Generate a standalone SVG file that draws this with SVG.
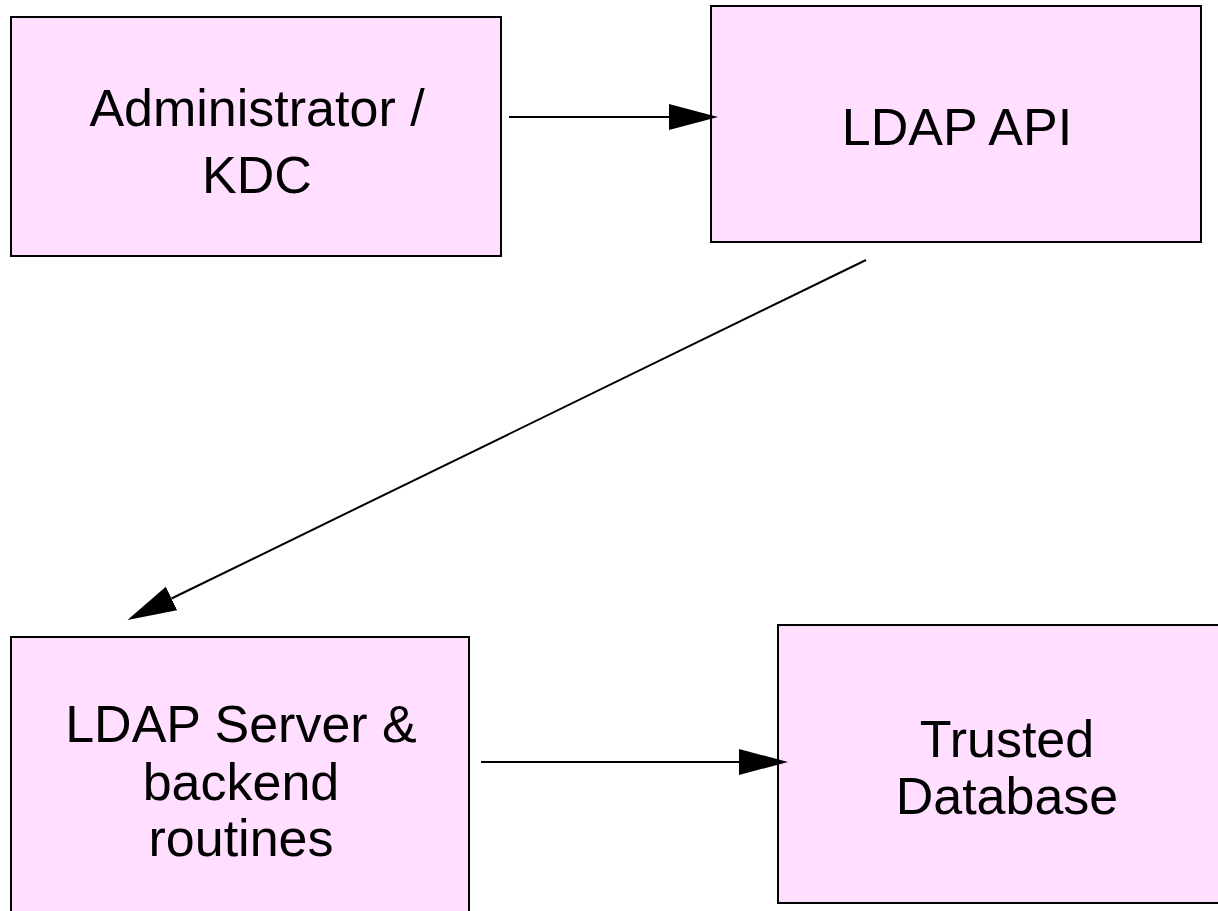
<svg xmlns="http://www.w3.org/2000/svg" width="1218" height="911" viewBox="0 0 1218 911">
<style>
.box{fill:#ffdeff;stroke:#000;stroke-width:2}
.lbl{font-family:"Liberation Sans",Arial,sans-serif;font-size:52px;fill:#000;text-anchor:middle}
.conn{stroke:#000;stroke-width:2;fill:none}
</style>
<defs>
<marker id="ah" markerUnits="userSpaceOnUse" markerWidth="50" markerHeight="27" refX="0" refY="13" orient="auto" viewBox="0 0 50 27">
<path d="M0,0 L49,13 L0,26 z" fill="#000"/>
</marker>
</defs>
<rect width="1218" height="911" fill="#fff"/>
<g id="admin">
<rect class="box" x="11" y="17" width="490" height="239"/>
<text class="lbl" x="257" y="126">Administrator /</text>
<text class="lbl" x="257" y="193">KDC</text>
</g>
<g id="ldapapi">
<rect class="box" x="711" y="6" width="490" height="236"/>
<text class="lbl" x="957" y="145">LDAP API</text>
</g>
<g id="ldapserver">
<rect class="box" x="11" y="637" width="458" height="300"/>
<text class="lbl" x="241" y="742">LDAP Server &amp;</text>
<text class="lbl" x="241" y="800">backend</text>
<text class="lbl" x="241" y="856">routines</text>
</g>
<g id="trusteddb">
<rect class="box" x="778" y="625" width="460" height="278"/>
<text class="lbl" x="1007" y="757">Trusted</text>
<text class="lbl" x="1007" y="814">Database</text>
</g>
<g id="connectors">
<line class="conn" x1="509" y1="117" x2="669" y2="117" marker-end="url(#ah)"/>
<line class="conn" x1="866" y1="260" x2="171.5" y2="598.5" marker-end="url(#ah)"/>
<line class="conn" x1="481" y1="762" x2="739" y2="762" marker-end="url(#ah)"/>
</g>
</svg>
